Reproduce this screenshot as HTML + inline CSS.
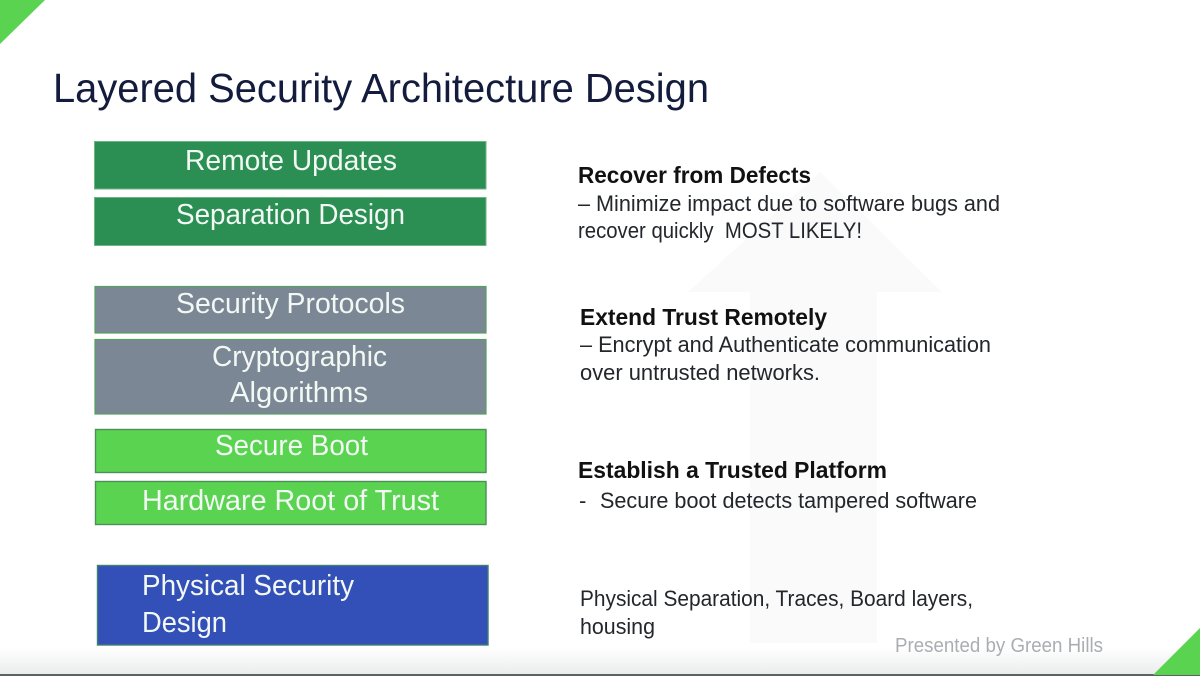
<!DOCTYPE html>
<html>
<head>
<meta charset="utf-8">
<style>
html,body{margin:0;padding:0;background:#fff;width:1200px;height:676px;overflow:hidden}
svg{display:block}
text{font-family:"Liberation Sans",sans-serif}
.t{fill:#f2f8f4;font-size:29px;text-anchor:start}
.h{fill:#111;font-size:23px;font-weight:bold}
.b{fill:#23262b;font-size:22px}
</style>
</head>
<body>
<svg width="1200" height="676" viewBox="0 0 1200 676" xmlns="http://www.w3.org/2000/svg">
<defs>
<linearGradient id="g" x1="0" y1="0" x2="0" y2="1">
<stop offset="0" stop-color="#ffffff"/>
<stop offset="1" stop-color="#ebecec"/>
</linearGradient>
</defs>
<rect width="1200" height="676" fill="#fff"/>
<rect x="0" y="648" width="1200" height="26" fill="url(#g)"/>
<rect x="0" y="674" width="1200" height="2" fill="#5a6264"/>

<polygon points="820,172 942,292 877,292 877,643 750,643 750,292 688,292" fill="#fafafb"/>

<polygon points="0,0 45,0 0,44" fill="#5ad450"/>
<polygon points="1153,675 1200,628 1200,675" fill="#5ad450"/>

<text x="53" y="102" font-size="41" fill="#131c3d" textLength="656" lengthAdjust="spacingAndGlyphs">Layered Security Architecture Design</text>

<rect x="94.5" y="141.5" width="391.5" height="47.5" fill="#2b8f54" stroke="#6fb583" stroke-width="1"/>
<rect x="94.5" y="197.5" width="391.5" height="48" fill="#2b8f54" stroke="#6fb583" stroke-width="1"/>
<rect x="95" y="286.5" width="391" height="46.5" fill="#7b8795" stroke="#55a060" stroke-width="1.2"/>
<rect x="95" y="339.5" width="391" height="74.5" fill="#7b8795" stroke="#55a060" stroke-width="1.2"/>
<rect x="95.5" y="429.5" width="390.5" height="43" fill="#5ad450" stroke="#4c8f58" stroke-width="1.4"/>
<rect x="95.5" y="481.5" width="390.5" height="43" fill="#5ad450" stroke="#4c8f58" stroke-width="1.4"/>
<rect x="97.5" y="565.5" width="390.5" height="79.5" fill="#3350b8" stroke="#3f7f74" stroke-width="1.4"/>

<text class="t" x="185" y="170" textLength="212" lengthAdjust="spacingAndGlyphs">Remote Updates</text>
<text class="t" x="176" y="224" textLength="229" lengthAdjust="spacingAndGlyphs">Separation Design</text>
<text class="t" x="176" y="313" textLength="229" lengthAdjust="spacingAndGlyphs">Security Protocols</text>
<text class="t" x="212" y="366" textLength="175" lengthAdjust="spacingAndGlyphs">Cryptographic</text>
<text class="t" x="230" y="402" textLength="138" lengthAdjust="spacingAndGlyphs">Algorithms</text>
<text class="t" x="215" y="455" textLength="153" lengthAdjust="spacingAndGlyphs">Secure Boot</text>
<text class="t" x="142" y="510" textLength="297" lengthAdjust="spacingAndGlyphs">Hardware Root of Trust</text>
<text class="t" x="142" y="595" textLength="212" lengthAdjust="spacingAndGlyphs">Physical Security</text>
<text class="t" x="142" y="632" textLength="85" lengthAdjust="spacingAndGlyphs">Design</text>

<text class="h" x="578" y="183" textLength="233" lengthAdjust="spacingAndGlyphs">Recover from Defects</text>
<text class="b" x="578" y="211" textLength="422" lengthAdjust="spacingAndGlyphs">– Minimize impact due to software bugs and</text>
<text class="b" x="578" y="238" textLength="284" lengthAdjust="spacingAndGlyphs" xml:space="preserve">recover quickly  MOST LIKELY!</text>

<text class="h" x="580" y="325" textLength="247" lengthAdjust="spacingAndGlyphs">Extend Trust Remotely</text>
<text class="b" x="580" y="352" textLength="411" lengthAdjust="spacingAndGlyphs">– Encrypt and Authenticate communication</text>
<text class="b" x="580" y="380" textLength="240" lengthAdjust="spacingAndGlyphs">over untrusted networks.</text>

<text class="h" x="578" y="478" textLength="309" lengthAdjust="spacingAndGlyphs">Establish a Trusted Platform</text>
<text class="b" x="579" y="508">-</text>
<text class="b" x="600" y="508" textLength="377" lengthAdjust="spacingAndGlyphs">Secure boot detects tampered software</text>

<text class="b" x="580" y="606" textLength="393" lengthAdjust="spacingAndGlyphs">Physical Separation, Traces, Board layers,</text>
<text class="b" x="580" y="634" textLength="75" lengthAdjust="spacingAndGlyphs">housing</text>

<text x="895" y="652" font-size="20" fill="#a9aeb3" textLength="208" lengthAdjust="spacingAndGlyphs">Presented by Green Hills</text>
</svg>
</body>
</html>
